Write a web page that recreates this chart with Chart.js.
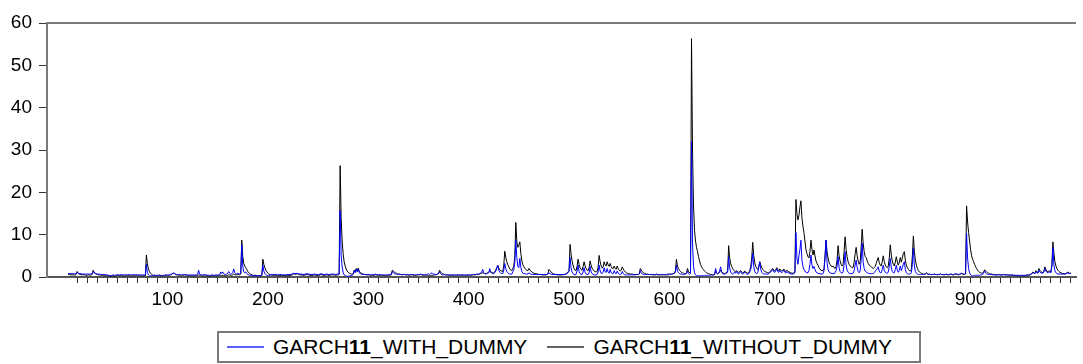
<!DOCTYPE html>
<html>
<head>
<meta charset="utf-8">
<script src="https://cdn.jsdelivr.net/npm/chart.js@4.4.1/dist/chart.umd.min.js"></script>
<style>
  body { margin: 0; background: #fff; }
  #wrap { position: relative; width: 1083px; height: 364px; }
  #legend {
    position: absolute; left: 217px; top: 331px; width: 704px; height: 32px;
    box-sizing: border-box; border: 2px solid #7a7a7a; background: #fff;
    display: flex; align-items: center;
    font-family: "Liberation Sans", Arial, sans-serif; font-size: 21px; color: #000;
  }
  #legend svg { display: block; margin-right: 9px; }
  #legend .item { display: flex; align-items: center; }
</style>
</head>
<body>
<div id="wrap">
  <canvas id="garchChart" width="1083" height="364"></canvas>
  <div id="legend">
    <span class="item" style="margin-left:8px"><svg width="37" height="4"><line x1="0" y1="2" x2="37" y2="2" stroke="#2a2aff" stroke-width="1.6"/></svg><span>GARCH<b>11</b>_WITH_DUMMY</span></span>
    <span class="item" style="margin-left:20px"><svg width="37" height="4"><line x1="0" y1="2" x2="37" y2="2" stroke="#333" stroke-width="1.6"/></svg><span>GARCH<b>11</b>_WITHOUT_DUMMY</span></span>
  </div>
</div>
<script>
// observation numbers and axis ticks
const obs = Array.from({ length: 1000 }, (_, k) => k + 1);
const xTickLabels = [100, 200, 300, 400, 500, 600, 700, 800, 900];
const yTicks = [0, 10, 20, 30, 40, 50, 60];

// GARCH11_WITH_DUMMY (blue)
const withDummy = [
  // 1-100
  0.8,0.8,0.8,0.8,0.8,0.8,0.8,0.7,0.8,1.1, 0.9,0.8,0.8,0.8,0.7,0.7,0.7,0.7,0.7,0.7,
  0.7,0.7,0.7,0.7,0.8,1.3,1.0,0.9,0.8,0.7, 0.7,0.7,0.6,0.6,0.6,0.6,0.6,0.6,0.5,0.5,
  0.4,0.4,0.3,0.3,0.4,0.5,0.4,0.4,0.5,0.6, 0.5,0.5,0.5,0.6,0.5,0.5,0.5,0.6,0.5,0.5,
  0.6,0.6,0.5,0.5,0.5,0.6,0.6,0.5,0.6,0.5, 0.5,0.5,0.5,0.5,0.5,0.5,0.5,0.5,3.0,1.1,
  0.5,0.3,0.3,0.3,0.3,0.4,0.4,0.4,0.4,0.4, 0.4,0.5,0.4,0.4,0.3,0.4,0.4,0.5,0.5,0.5,
  // 101-200
  0.5,0.5,0.6,0.7,0.8,0.9,0.8,0.7,0.6,0.6, 0.6,0.6,0.6,0.5,0.6,0.6,0.6,0.6,0.5,0.5,
  0.5,0.5,0.5,0.5,0.5,0.5,0.5,0.5,0.5,0.6, 1.6,0.7,0.6,0.5,0.5,0.6,0.6,0.5,0.5,0.4,
  0.4,0.4,0.4,0.5,0.5,0.4,0.4,0.5,0.5,0.5, 0.5,0.5,1.2,0.8,1.2,0.8,0.6,0.6,0.7,0.8,
  1.3,0.9,0.7,0.8,1.0,1.9,1.0,0.8,0.7,0.9, 0.8,0.7,0.9,7.6,2.6,1.2,1.0,1.2,0.8,0.6,
  0.5,0.4,0.4,0.3,0.3,0.3,0.3,0.3,0.3,0.3, 0.3,0.3,0.3,0.4,2.8,1.4,0.8,0.6,0.4,0.3,
  // 201-300
  0.3,0.4,0.5,0.5,0.6,0.6,0.6,0.6,0.5,0.5, 0.6,0.6,0.6,0.5,0.5,0.5,0.5,0.5,0.6,0.6,
  0.6,0.6,0.6,0.7,0.8,0.9,0.8,0.8,0.9,0.8, 0.7,0.7,0.7,0.7,0.6,0.6,0.7,0.7,0.8,0.7,
  0.7,0.6,0.6,0.6,0.6,0.7,0.7,0.6,0.6,0.6, 0.6,0.7,0.8,0.7,0.6,0.6,0.6,0.7,0.7,0.6,
  0.6,0.6,0.7,0.7,0.7,0.7,0.6,0.6,0.7,0.7, 0.7,15.8,5.2,2.4,1.0,0.5,0.3,0.2,0.2,0.2,
  0.2,0.3,0.3,0.4,0.6,1.5,1.0,1.8,1.2,1.9, 1.0,0.8,0.7,0.6,0.6,0.6,0.6,0.6,0.6,0.6,
  // 301-400
  0.6,0.5,0.5,0.6,0.6,0.5,0.7,0.6,0.6,0.5, 0.6,0.6,0.5,0.5,0.5,0.5,0.5,0.5,0.5,0.6,
  0.6,0.6,0.7,1.3,1.0,0.8,0.7,0.7,0.6,0.6, 0.6,0.6,0.6,0.5,0.6,0.6,0.6,0.5,0.6,0.6,
  0.5,0.6,0.6,0.6,0.6,0.5,0.5,0.5,0.6,0.6, 0.6,0.7,0.6,0.6,0.6,0.5,0.6,0.6,0.7,0.7,
  0.6,0.7,1.0,0.8,0.7,0.7,0.6,0.6,0.7,0.8, 1.2,0.8,0.6,0.5,0.5,0.6,0.5,0.5,0.5,0.5,
  0.5,0.5,0.5,0.6,0.5,0.5,0.5,0.5,0.6,0.5, 0.5,0.5,0.6,0.5,0.5,0.5,0.5,0.5,0.6,0.5,
  // 401-500
  0.5,0.5,0.6,0.6,0.6,0.6,0.6,0.7,0.7,0.7, 0.8,0.9,1.2,1.8,1.0,0.8,0.7,0.8,0.9,1.0,
  2.0,1.2,0.9,0.8,0.8,1.0,1.4,2.0,2.8,1.6, 1.1,0.9,0.8,0.8,1.6,3.2,2.0,1.3,1.0,0.8,
  0.7,0.7,0.7,1.2,1.8,3.5,8.7,4.6,2.5,2.2, 4.4,2.3,1.3,0.9,0.8,0.8,0.7,0.7,0.7,1.0,
  0.8,0.7,0.6,0.6,0.6,0.6,0.6,0.6,0.6,0.6, 0.6,0.6,0.6,0.6,0.6,0.6,0.6,0.6,0.7,1.0,
  0.8,0.7,0.6,0.6,0.6,0.6,0.6,0.6,0.6,0.6, 0.6,0.6,0.6,0.6,0.6,0.6,0.7,0.8,1.0,1.3,
  // 501-600
  4.6,2.2,1.2,0.8,0.6,0.5,0.6,1.4,2.8,1.3, 0.8,0.6,0.6,1.2,2.2,1.1,0.7,0.6,0.6,1.0,
  2.5,1.2,0.8,0.6,0.5,0.5,0.5,0.6,1.2,2.8, 1.4,0.9,0.8,1.2,2.2,1.2,1.1,2.0,1.1,0.9,
  1.8,1.0,0.8,0.8,1.5,0.9,0.8,1.4,0.9,0.7, 0.6,0.7,1.3,0.8,0.6,0.5,0.5,0.5,0.5,0.5,
  0.5,0.5,0.5,0.5,0.5,0.5,0.6,0.6,0.6,0.7, 1.5,0.9,0.7,0.6,0.6,0.6,0.6,0.6,0.6,0.6,
  0.6,0.6,0.6,0.6,0.6,0.6,0.7,0.6,0.6,0.6, 0.6,0.6,0.6,0.6,0.6,0.6,0.6,0.7,0.7,0.7,
  // 601-700
  0.7,0.7,0.8,0.8,0.9,1.2,2.8,1.4,1.0,0.8, 0.7,0.7,0.6,0.6,0.6,0.7,0.8,1.4,0.8,0.6,
  0.8,32.0,8.0,2.5,1.0,0.5,0.3,0.3,0.3,0.3, 0.3,0.3,0.3,0.3,0.3,0.4,0.4,0.4,0.4,0.4,
  0.4,0.5,0.5,0.5,0.6,2.0,1.0,0.7,0.9,1.4, 2.4,1.2,0.8,0.7,0.6,0.8,0.9,1.2,4.8,2.2,
  1.2,0.8,0.7,0.8,1.2,0.9,1.3,0.8,0.7,1.0, 1.3,0.8,0.7,0.8,1.2,0.9,0.7,0.6,0.8,1.2,
  1.8,3.0,5.6,2.4,1.3,0.9,0.8,1.0,2.2,3.6, 1.8,1.1,0.8,0.7,0.7,0.7,0.7,0.7,0.8,1.0,
  // 701-800
  1.2,1.5,1.8,1.2,1.1,1.5,1.9,1.2,1.1,1.6, 1.2,1.0,1.3,1.6,1.1,0.9,1.3,1.0,0.9,0.8,
  0.7,0.7,0.7,0.8,1.0,10.5,4.5,3.0,5.0,6.5, 8.7,4.0,2.5,1.8,1.4,1.1,1.0,1.0,1.5,3.0,
  5.2,2.8,2.0,2.5,1.8,1.2,1.0,0.9,0.8,0.8, 0.7,0.7,0.8,1.5,4.5,8.7,3.5,1.8,1.2,1.0,
  0.9,0.8,0.8,0.8,1.0,1.5,2.5,4.8,2.2,1.3, 1.0,0.9,1.2,3.0,6.0,2.8,1.6,1.1,0.9,0.8,
  0.8,0.8,0.9,1.5,2.8,4.0,2.2,1.3,1.0,1.5, 4.0,8.0,3.5,2.0,1.4,1.2,1.0,0.9,0.8,0.8,
  // 801-900
  0.8,0.8,0.8,1.0,1.4,1.6,2.0,2.4,1.4,1.0, 1.0,1.8,2.8,1.6,1.1,0.9,0.9,1.2,2.5,4.4,
  2.2,1.3,1.0,1.0,1.8,2.8,1.6,1.1,1.6,2.6, 1.5,2.2,3.0,3.6,1.8,1.0,0.8,0.7,0.7,0.7,
  1.0,3.0,6.8,2.6,1.3,0.9,0.7,0.6,0.6,0.6, 0.6,0.6,0.6,0.6,0.7,0.9,0.7,0.6,0.6,0.6,
  0.6,0.6,0.6,0.7,0.6,0.6,0.6,0.6,0.6,0.7, 0.6,0.6,0.6,0.6,0.6,0.7,0.6,0.6,0.6,0.7,
  0.7,0.6,0.6,0.7,0.8,0.7,0.7,0.6,0.7,0.8, 0.9,0.8,0.7,0.7,0.8,10.3,4.5,2.0,1.0,0.5,
  // 901-1000
  0.3,0.3,0.3,0.4,0.4,0.4,0.4,0.4,0.4,0.5, 0.5,0.6,1.0,1.4,0.9,0.7,0.6,0.6,0.6,0.6,
  0.6,0.5,0.5,0.5,0.5,0.5,0.5,0.6,0.5,0.5, 0.5,0.5,0.6,0.5,0.5,0.5,0.5,0.5,0.5,0.5,
  0.5,0.5,0.4,0.4,0.4,0.4,0.4,0.4,0.4,0.4, 0.4,0.4,0.4,0.4,0.4,0.5,0.5,0.5,0.6,0.7,
  0.8,1.0,0.9,0.8,1.2,1.0,0.9,1.6,1.2,1.0, 0.9,0.9,1.2,2.0,1.4,1.1,1.0,1.2,1.1,1.0,
  2.5,7.0,2.8,1.5,1.0,0.8,0.7,0.7,0.7,0.7, 0.7,0.7,0.7,0.7,0.8,0.9,1.0,0.8,0.8,0.9
];

// GARCH11_WITHOUT_DUMMY (black)
const withoutDummy = [
  // 1-100
  0.6,0.6,0.5,0.5,0.5,0.5,0.5,0.4,0.6,1.3, 0.9,0.7,0.6,0.5,0.5,0.6,0.5,0.5,0.4,0.4,
  0.5,0.5,0.4,0.5,0.6,1.6,1.1,0.8,0.7,0.6, 0.5,0.5,0.5,0.4,0.4,0.4,0.4,0.3,0.3,0.3,
  0.3,0.3,0.2,0.2,0.3,0.3,0.2,0.2,0.3,0.4, 0.3,0.3,0.3,0.4,0.3,0.3,0.3,0.3,0.3,0.3,
  0.3,0.4,0.3,0.3,0.3,0.3,0.3,0.3,0.4,0.3, 0.3,0.3,0.3,0.3,0.3,0.3,0.3,0.3,5.2,3.1,
  2.0,1.3,0.9,0.7,0.5,0.4,0.4,0.3,0.3,0.3, 0.3,0.4,0.3,0.3,0.2,0.3,0.3,0.4,0.4,0.3,
  // 101-200
  0.3,0.4,0.5,0.6,0.8,1.0,0.8,0.6,0.5,0.5, 0.4,0.4,0.4,0.3,0.4,0.4,0.5,0.4,0.4,0.3,
  0.3,0.3,0.3,0.3,0.3,0.3,0.3,0.3,0.3,0.4, 0.5,0.4,0.4,0.3,0.3,0.3,0.3,0.3,0.3,0.3,
  0.2,0.2,0.3,0.3,0.3,0.3,0.3,0.3,0.3,0.3, 0.3,0.3,0.4,0.3,0.4,0.4,0.3,0.3,0.3,0.4,
  0.5,0.5,0.4,0.4,0.5,0.7,0.6,0.5,0.5,0.6, 0.6,0.5,0.7,8.7,4.8,3.2,2.6,2.2,1.8,1.3,
  1.0,0.8,0.6,0.5,0.4,0.4,0.4,0.4,0.3,0.3, 0.3,0.3,0.3,0.4,4.2,3.0,2.2,1.6,1.2,0.9,
  // 201-300
  0.7,0.6,0.5,0.5,0.4,0.4,0.4,0.4,0.4,0.3, 0.3,0.3,0.4,0.4,0.4,0.3,0.3,0.3,0.3,0.3,
  0.3,0.4,0.4,0.5,0.6,0.8,0.7,0.6,0.8,0.7, 0.6,0.5,0.5,0.5,0.4,0.4,0.5,0.5,0.6,0.5,
  0.5,0.4,0.4,0.4,0.4,0.5,0.5,0.4,0.4,0.4, 0.4,0.5,0.6,0.5,0.4,0.4,0.4,0.5,0.5,0.4,
  0.4,0.4,0.5,0.5,0.5,0.5,0.4,0.4,0.5,0.5, 0.6,26.3,14.0,8.5,5.5,3.6,2.6,1.9,1.4,1.1,
  0.9,0.8,0.7,0.7,0.8,1.6,1.3,2.0,1.5,2.1, 1.4,1.1,0.9,0.8,0.7,0.6,0.6,0.5,0.5,0.5,
  // 301-400
  0.5,0.4,0.4,0.4,0.4,0.4,0.5,0.5,0.4,0.4, 0.4,0.4,0.4,0.4,0.4,0.3,0.3,0.3,0.4,0.4,
  0.4,0.4,0.5,1.6,1.4,1.2,1.0,0.9,0.8,0.7, 0.7,0.6,0.6,0.5,0.6,0.6,0.5,0.5,0.5,0.4,
  0.4,0.5,0.5,0.5,0.4,0.4,0.4,0.4,0.5,0.5, 0.5,0.6,0.5,0.4,0.4,0.4,0.4,0.4,0.4,0.3,
  0.3,0.3,0.4,0.4,0.4,0.5,0.5,0.6,0.7,0.8, 1.6,1.2,0.9,0.8,0.7,0.6,0.5,0.5,0.5,0.4,
  0.4,0.4,0.4,0.4,0.4,0.4,0.4,0.4,0.4,0.4, 0.4,0.4,0.4,0.4,0.4,0.3,0.4,0.4,0.4,0.4,
  // 401-500
  0.4,0.4,0.4,0.5,0.5,0.5,0.5,0.6,0.6,0.6, 0.7,0.8,0.9,1.0,0.9,0.8,0.8,0.9,1.0,1.1,
  1.3,1.2,1.1,1.0,1.0,1.2,1.6,2.2,2.7,2.1, 1.7,1.5,1.4,1.3,2.8,6.1,4.6,3.6,2.9,2.4,
  1.9,1.6,1.5,2.0,2.6,5.0,12.9,8.4,7.0,7.5, 8.3,5.5,3.8,2.9,2.4,2.0,1.8,1.6,1.5,2.0,
  1.6,1.4,1.2,1.0,0.9,0.8,0.8,0.7,0.7,0.6, 0.6,0.6,0.5,0.5,0.5,0.5,0.5,0.6,0.8,1.8,
  1.5,1.2,1.0,0.8,0.7,0.6,0.6,0.5,0.5,0.5, 0.5,0.5,0.5,0.5,0.6,0.6,0.7,0.9,1.2,1.5,
  // 501-600
  7.7,5.5,3.8,2.8,2.0,1.6,1.5,2.5,4.2,3.0, 2.2,1.8,1.6,2.5,3.6,2.6,2.0,1.6,1.5,2.2,
  3.8,2.8,2.1,1.7,1.4,1.3,1.2,1.3,2.4,5.1, 3.6,2.6,2.1,2.4,3.6,2.8,2.6,3.6,2.8,2.5,
  3.2,2.5,2.0,2.0,2.6,2.0,1.8,2.6,2.0,1.6, 1.4,1.6,2.4,1.9,1.5,1.2,1.0,0.9,0.8,0.8,
  0.7,0.7,0.7,0.6,0.6,0.6,0.6,0.6,0.6,0.7, 2.0,1.6,1.3,1.0,0.9,0.8,0.7,0.7,0.6,0.6,
  0.6,0.6,0.5,0.5,0.5,0.5,0.6,0.5,0.5,0.5, 0.5,0.5,0.5,0.5,0.5,0.5,0.5,0.5,0.5,0.6,
  // 601-700
  0.6,0.6,0.7,0.8,0.9,1.5,4.2,2.6,2.0,1.6, 1.3,1.1,1.0,0.9,0.8,0.8,1.0,2.0,1.3,1.0,
  1.2,56.3,30.0,17.0,11.0,8.5,7.0,6.0,4.8,3.8, 3.0,2.4,2.0,1.7,1.4,1.2,1.0,0.9,0.8,0.7,
  0.6,0.6,0.5,0.5,0.6,1.4,1.0,0.8,0.9,1.2, 1.6,1.2,1.0,0.9,0.8,0.9,1.0,1.5,7.4,4.5,
  3.2,2.5,2.0,1.6,1.4,1.3,1.5,1.2,1.1,1.3, 1.5,1.2,1.0,1.1,1.4,1.2,1.0,0.9,1.0,1.5,
  2.5,4.5,8.2,5.0,3.4,2.5,2.0,1.8,2.5,3.6, 2.8,2.2,1.8,1.5,1.3,1.2,1.1,1.0,1.0,1.2,
  // 701-800
  1.4,1.8,2.0,1.6,1.5,1.8,2.2,1.7,1.5,1.9, 1.6,1.4,1.6,1.9,1.5,1.3,1.6,1.4,1.2,1.1,
  1.0,0.9,0.9,1.0,1.2,18.3,15.0,13.5,14.5,16.5, 18.0,14.0,12.0,10.5,8.5,6.5,5.5,4.8,4.5,6.0,
  8.7,6.5,5.2,6.4,5.0,3.8,3.2,2.8,2.2,1.8, 1.6,1.5,1.5,2.0,5.0,8.7,6.0,4.5,3.5,3.0,
  2.6,2.4,2.6,2.2,2.0,2.5,4.0,7.4,5.0,3.8, 3.0,2.6,3.0,6.0,9.5,6.5,4.8,3.6,3.0,2.6,
  2.4,2.2,2.3,3.5,5.5,7.0,5.0,3.8,3.0,3.6, 7.0,11.3,8.0,6.0,4.8,4.6,3.8,3.2,2.8,2.6,
  // 801-900
  2.4,2.2,2.0,2.2,2.5,3.2,4.0,4.6,3.4,2.8, 2.6,3.6,5.0,3.6,2.8,2.4,2.2,2.6,4.5,7.6,
  5.2,3.8,3.0,2.6,3.5,4.8,3.6,2.8,3.5,4.6, 3.5,4.5,5.6,6.0,4.0,2.8,2.2,1.8,1.5,1.4,
  1.8,5.0,9.7,6.0,4.0,2.8,2.0,1.5,1.2,1.0, 0.9,0.8,0.7,0.7,0.8,1.0,0.8,0.7,0.7,0.6,
  0.6,0.6,0.6,0.7,0.6,0.6,0.5,0.6,0.6,0.7, 0.6,0.6,0.5,0.5,0.6,0.6,0.5,0.5,0.6,0.6,
  0.6,0.5,0.5,0.6,0.7,0.6,0.6,0.5,0.6,0.7, 0.8,0.7,0.6,0.6,0.7,16.8,13.0,10.5,8.5,6.5,
  // 901-1000
  5.0,4.2,3.6,3.0,2.4,2.0,1.6,1.3,1.1,1.0, 0.9,0.9,1.2,1.7,1.4,1.2,1.0,0.9,0.8,0.7,
  0.7,0.6,0.6,0.6,0.5,0.5,0.5,0.6,0.5,0.5, 0.5,0.5,0.6,0.5,0.5,0.5,0.5,0.4,0.4,0.4,
  0.4,0.4,0.4,0.4,0.3,0.3,0.3,0.3,0.3,0.3, 0.3,0.3,0.3,0.3,0.3,0.4,0.4,0.4,0.5,0.6,
  0.8,1.2,1.0,0.8,1.5,1.2,1.0,2.0,1.6,1.3, 1.1,1.0,1.4,2.4,1.8,1.4,1.2,1.5,1.3,1.2,
  3.0,8.3,5.5,3.6,2.6,2.0,1.6,1.3,1.1,1.0, 0.9,0.8,0.8,0.7,0.8,1.0,1.2,0.9,0.8,1.0
];

const FONT = '"Liberation Sans", Arial, sans-serif';

// top edge of the frame
const frameTop = {
  id: 'frameTop',
  afterDraw(chart) {
    const { ctx, chartArea } = chart;
    ctx.save();
    ctx.strokeStyle = '#7a7a7a';
    ctx.lineWidth = 2;
    ctx.beginPath();
    ctx.moveTo(chartArea.left, chartArea.top);
    ctx.lineTo(chartArea.right, chartArea.top);
    ctx.stroke();
    ctx.restore();
  }
};

new Chart(document.getElementById('garchChart'), {
  type: 'line',
  data: {
    datasets: [
      {
        label: 'GARCH11_WITH_DUMMY',
        data: withDummy.map((v, k) => ({ x: obs[k], y: v })),
        borderColor: '#0000ff',
        borderWidth: 1,
        pointRadius: 0,
        tension: 0
      },
      {
        label: 'GARCH11_WITHOUT_DUMMY',
        data: withoutDummy.map((v, k) => ({ x: obs[k], y: v })),
        borderColor: '#000000',
        borderWidth: 1,
        pointRadius: 0,
        tension: 0
      }
    ]
  },
  options: {
    responsive: false,
    animation: false,
    devicePixelRatio: 1,
    layout: { padding: { left: 0, top: 23, right: 7, bottom: 0 } },
    plugins: { legend: { display: false }, tooltip: { enabled: false } },
    scales: {
      x: {
        type: 'linear',
        min: -20,
        max: 1005,
        afterFit: (scale) => { scale.height = 87; },
        afterBuildTicks: (scale) => {
          scale.ticks = [];
          for (let v = 10; v <= 1000; v += 10) scale.ticks.push({ value: v });
        },
        ticks: {
          autoSkip: false,
          maxRotation: 0,
          padding: 5,
          color: '#000',
          font: { family: FONT, size: 19 },
          callback: (v) => xTickLabels.includes(v) ? String(v) : ''
        },
        grid: { drawOnChartArea: false, tickLength: 6, tickColor: '#333', tickWidth: 1 },
        border: { color: '#555', width: 2 }
      },
      y: {
        min: 0,
        max: 60,
        afterFit: (scale) => { scale.width = 47; },
        afterBuildTicks: (scale) => { scale.ticks = yTicks.map(v => ({ value: v })); },
        ticks: {
          padding: 7,
          color: '#000',
          font: { family: FONT, size: 19 }
        },
        grid: { drawOnChartArea: false, tickLength: 8, tickColor: '#333', tickWidth: 1 },
        border: { color: '#7a7a7a', width: 2 }
      }
    }
  },
  plugins: [frameTop]
});
</script>
</body>
</html>
